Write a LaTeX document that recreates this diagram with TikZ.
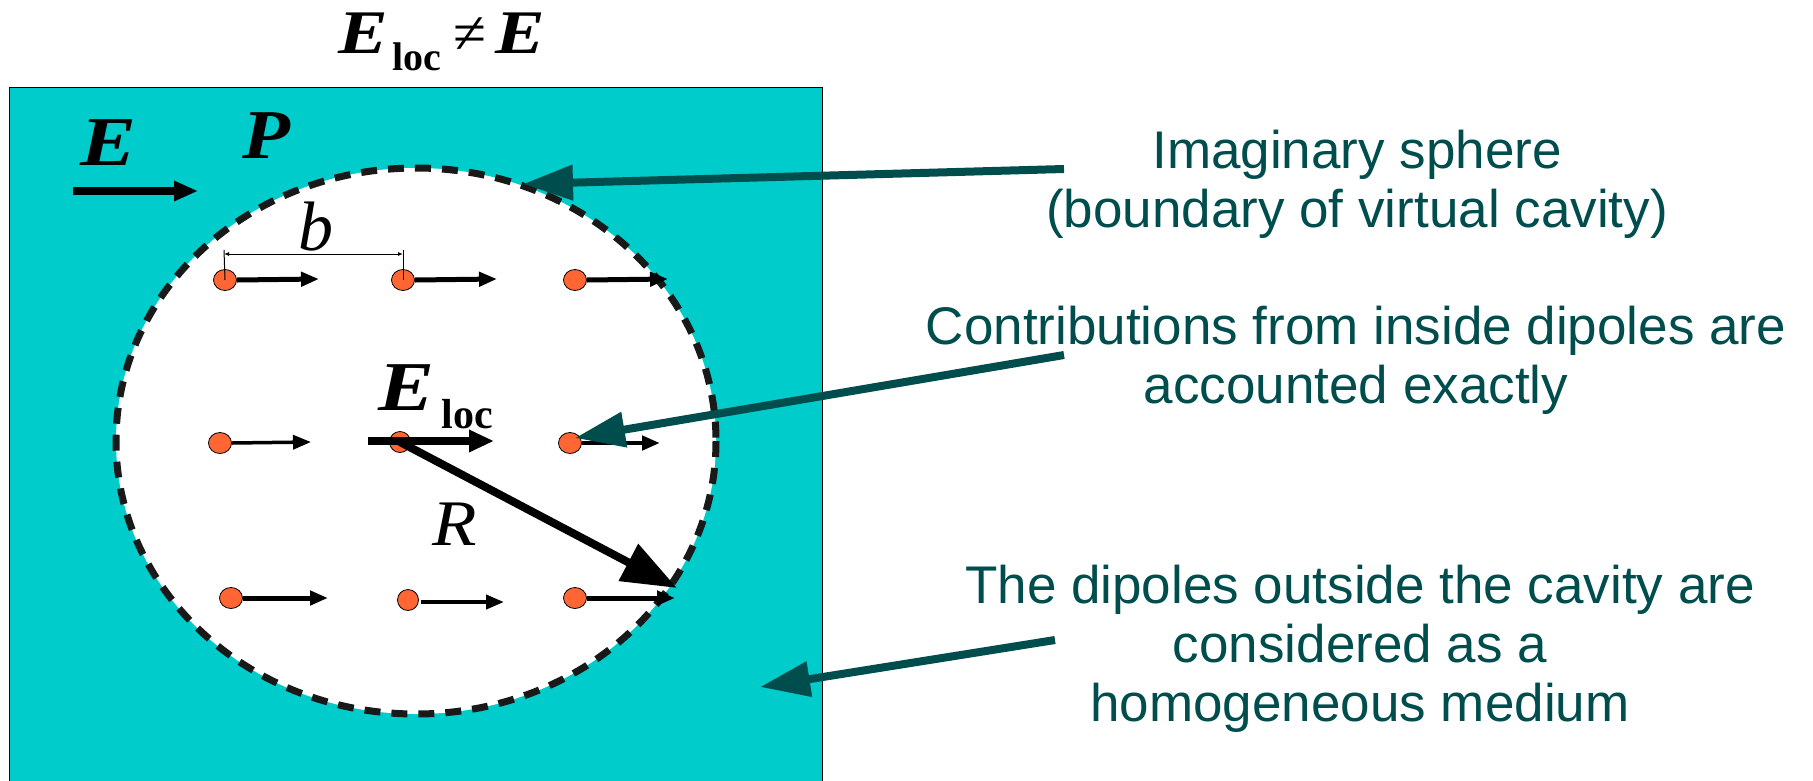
\documentclass[tikz,border=0pt]{standalone}
\usepackage{fontspec}
\usepackage{graphicx}
\setmainfont{Liberation Serif}
\newfontfamily\labfont{Liberation Sans}
\usetikzlibrary{arrows.meta,shapes.geometric}
\definecolor{medium}{RGB}{0,204,204}
\definecolor{dotcol}{RGB}{255,102,51}
\definecolor{ann}{RGB}{0,77,77}
\newcommand{\wideE}{\scalebox{1.2}[1]{E}}
\begin{document}
\begin{tikzpicture}[x=1pt,y=-1pt,
  lbl/.style={inner sep=0pt,anchor=base},
  bigsym/.style={lbl,font=\fontsize{70}{70}\selectfont\bfseries\itshape},
  dotn/.style={ellipse,draw=black,line width=0.8pt,fill=dotcol,minimum width=23pt,minimum height=21pt,inner sep=0pt},
  diparr/.style={line width=#1,-{Triangle[length=18pt,width=14pt]}},
  diparr/.default=5pt,
  annarr/.style={draw=ann,line width=8pt,-{Triangle[length=50pt,width=34pt]}},
  anntext/.style={font=\labfont\fontsize{53}{59}\selectfont,text=ann,align=center,inner sep=0pt,anchor=base},
  dimln/.style={line width=1pt}
]
\useasboundingbox (0,0) rectangle (1813,780);
% medium
\draw[fill=medium,line width=1pt] (9,87) rectangle (822,800);
% cavity
\node[ellipse,fill=white,minimum width=600pt,minimum height=546pt,inner sep=0pt] (cav) at (416,441) {};
\draw[black!90,line width=7pt,dash pattern=on 16pt off 11pt] (416,441) ellipse [x radius=300, y radius=273];
% title
\node[lbl,font=\fontsize{62}{62}\selectfont\bfseries\itshape] (t1) at (363,53) {\wideE};
\node[lbl,font=\fontsize{40}{40}\selectfont\bfseries] (t2) at (417,70) {loc};
\node[lbl,font=\fontsize{60}{60}\selectfont] (t3) at (470,53) {≠};
\node[lbl,font=\fontsize{62}{62}\selectfont\bfseries\itshape] (t4) at (520,53) {\wideE};
% E and P
\node[bigsym] (lE) at (109,165) {\wideE};
\node[bigsym] (lP) at (266,158) {\scalebox{1.12}[1]{P}};
\coordinate (ea) at (73,191);
\coordinate (eb) at (198,191);
\draw[line width=7.5pt,-{Triangle[length=24pt,width=19pt]}] (ea) -- (eb);
% dipole arrow ends
\coordinate (a11) at (319,279);
\coordinate (a12) at (497,279);
\coordinate (a13) at (668,279);
\coordinate (a21) at (311,442);
\coordinate (a23) at (660,443);
\coordinate (a31) at (328,598);
\coordinate (a32s) at (421,602);
\coordinate (a32) at (504,602);
\coordinate (a33) at (675,598);
% dots
\node[dotn] (d11) at (225,280) {};
\node[dotn] (d12) at (403,280) {};
\node[dotn] (d13) at (575,280) {};
\node[dotn] (d21) at (220,443) {};
\node[dotn,minimum width=21pt] (d22) at (400,442) {};
\node[dotn] (d23) at (570,443) {};
\node[dotn] (d31) at (231,598) {};
\node[dotn,minimum width=21pt] (d32) at (408,600) {};
\node[dotn] (d33) at (575,598) {};
% small dipole arrows
\draw[diparr] (d11.east) -- (a11);
\draw[diparr] (d12.east) -- (a12);
\draw[diparr] (d13.east) -- (a13);
\draw[diparr=3.5pt] (d21.east) -- (a21);
\draw[diparr=4.5pt] (d23.east) -- (a23);
\draw[diparr] (d31.east) -- (a31);
\draw[diparr=4pt] (a32s) -- (a32);
\draw[diparr] (d33.east) -- (a33);
% b dimension
\coordinate (b1) at (224,254);
\coordinate (b2) at (403,254);
\coordinate (bt1) at (224,250);
\coordinate (bt2) at (403,250);
\draw[dimln,{Latex[length=5pt,width=4pt]}-{Latex[length=5pt,width=4pt]}] (b1) -- (b2);
\draw[dimln] (bt1) -- (d11.center);
\draw[dimln] (bt2) -- (d12.center);
\node[lbl,font=\fontsize{70}{70}\selectfont\itshape] (lb) at (316,250) {b};
% E_loc
\coordinate (ela) at (368,441);
\coordinate (elb) at (494,441);
\draw[line width=8pt,-{Triangle[length=25pt,width=21pt]}] (ela) -- (elb);
\node[bigsym] (lEl) at (407,410) {\wideE};
\node[lbl,font=\fontsize{42}{42}\selectfont\bfseries] (lloc) at (467,428) {loc};
% R
\coordinate (rtip) at (677,588);
\draw[line width=8pt,-{Triangle[length=55pt,width=40pt]}] (d22.center) -- (rtip);
\node[lbl,font=\fontsize{65}{65}\selectfont\itshape] (lR) at (455,545) {\scalebox{1.12}[1]{R}};
% annotation texts
\node[anntext] (n1) at (1357,227) {Imaginary sphere\\(boundary of virtual cavity)};
\node[anntext] (n2) at (1356,403) {Contributions from inside dipoles are\\accounted exactly};
\node[anntext] (n3) at (1360,721) {The dipoles outside the cavity are\\considered as a\\homogeneous medium};
% annotation arrows
\coordinate (s1) at (1064,169);
\coordinate (p1) at (523,184);
\coordinate (s2) at (1064,355);
\coordinate (p2) at (575,438);
\coordinate (s3) at (1055,640);
\coordinate (p3) at (760,687);
\draw[annarr] (s1) -- (p1);
\draw[annarr] (s2) -- (p2);
\draw[annarr] (s3) -- (p3);
\end{tikzpicture}
\end{document}
